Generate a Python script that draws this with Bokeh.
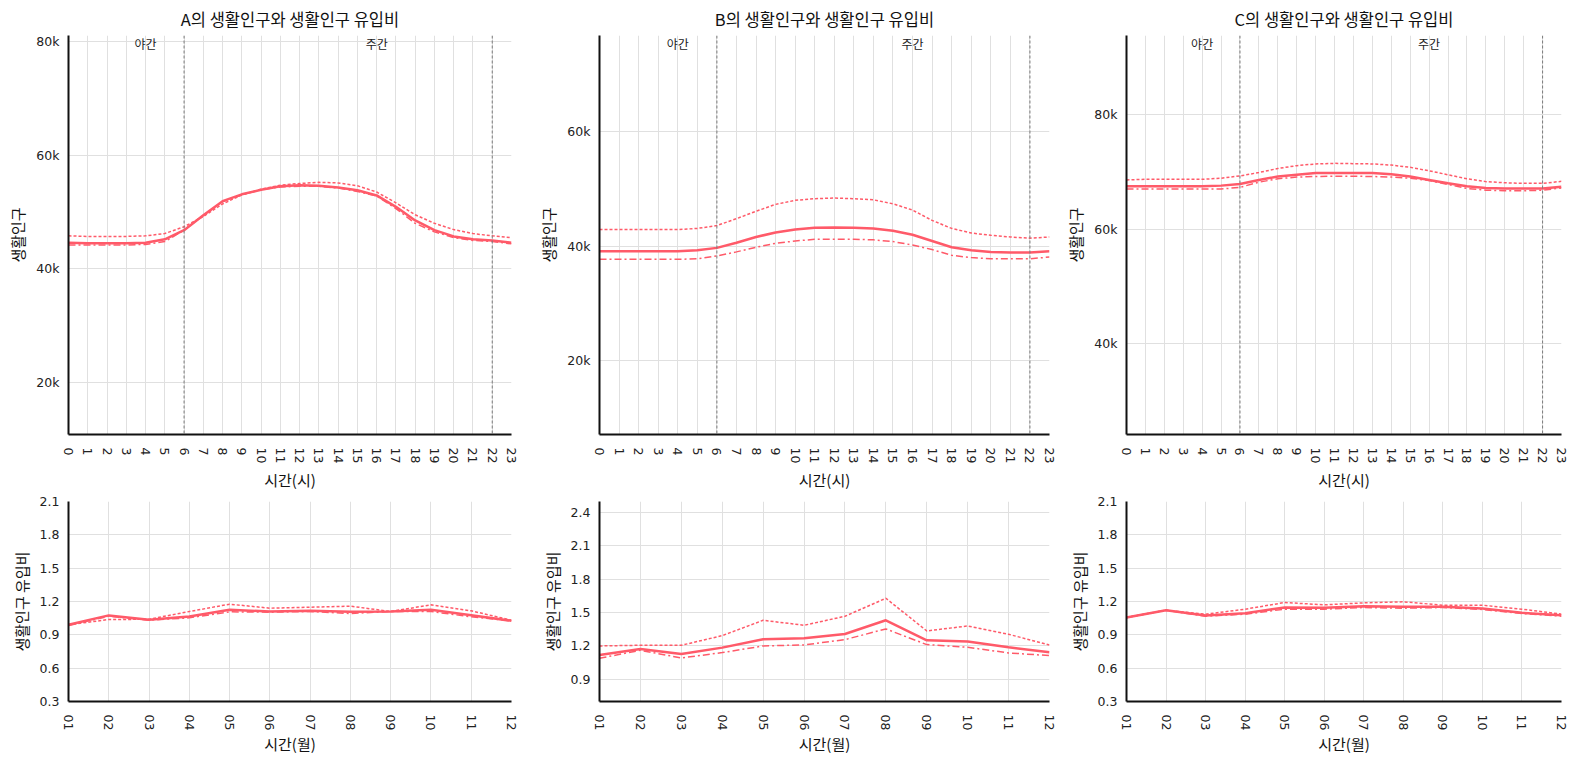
from bokeh.plotting import figure
from bokeh.models import Range1d, FixedTicker, NumeralTickFormatter, Span
from bokeh.layouts import column, row
from bokeh.core.properties import value
from bokeh.embed import file_html
from bokeh.resources import INLINE

# ---------------- data ----------------
hours = list(range(24))
hour_labels = [str(h) for h in hours]
months = list(range(1, 13))
month_labels = ["01", "02", "03", "04", "05", "06", "07", "08", "09", "10", "11", "12"]
period_labels = ["야간", "주간"]
period_x = [4, 16]
boundaries = [6, 22]

titles = ["A의 생활인구와 생활인구 유입비", "B의 생활인구와 생활인구 유입비", "C의 생활인구와 생활인구 유입비"]

a_pop_1 = [44.6, 44.5, 44.5, 44.5, 44.6, 45.2, 46.8, 49.4, 51.9, 53.1, 53.9, 54.5,
           54.7, 54.6, 54.3, 53.8, 52.9, 50.9, 48.5, 46.8, 45.7, 45.2, 45.0, 44.6]
a_pop_2 = [45.8, 45.7, 45.7, 45.7, 45.8, 46.2, 47.4, 49.2, 51.4, 53.0, 54.0, 54.7,
           55.0, 55.2, 55.1, 54.6, 53.5, 51.6, 49.5, 48.0, 46.9, 46.2, 45.8, 45.5]
a_pop_3 = [44.2, 44.2, 44.2, 44.2, 44.3, 44.8, 46.8, 49.4, 51.8, 53.0, 53.9, 54.4,
           54.5, 54.5, 54.2, 53.6, 52.8, 50.6, 48.0, 46.5, 45.5, 45.0, 44.8, 44.4]

b_pop_1 = [39.1, 39.1, 39.1, 39.1, 39.1, 39.3, 39.7, 40.6, 41.6, 42.4, 42.9, 43.2,
           43.25, 43.2, 43.1, 42.7, 42.0, 40.9, 39.8, 39.3, 39.0, 38.9, 38.9, 39.1]
b_pop_2 = [42.9, 42.9, 42.9, 42.9, 42.9, 43.1, 43.6, 44.8, 46.1, 47.3, 48.0, 48.3,
           48.4, 48.3, 48.1, 47.4, 46.3, 44.5, 43.1, 42.3, 41.9, 41.6, 41.4, 41.6]
b_pop_3 = [37.7, 37.7, 37.7, 37.7, 37.7, 37.8, 38.3, 39.0, 39.8, 40.5, 40.9, 41.2,
           41.2, 41.2, 41.1, 40.8, 40.2, 39.4, 38.4, 38.0, 37.8, 37.8, 37.8, 38.1]

c_pop_1 = [67.5, 67.5, 67.5, 67.5, 67.5, 67.6, 67.9, 68.6, 69.2, 69.5, 69.8, 69.8,
           69.8, 69.8, 69.6, 69.2, 68.6, 68.0, 67.5, 67.2, 67.1, 67.1, 67.1, 67.4]
c_pop_2 = [68.6, 68.7, 68.7, 68.7, 68.7, 68.9, 69.3, 69.9, 70.6, 71.1, 71.4, 71.5,
           71.45, 71.4, 71.2, 70.8, 70.2, 69.5, 68.8, 68.3, 68.1, 68.0, 68.0, 68.35]
c_pop_3 = [67.0, 67.0, 67.0, 67.0, 67.0, 67.0, 67.3, 68.2, 68.8, 69.1, 69.2, 69.25,
           69.25, 69.2, 69.1, 68.9, 68.5, 67.8, 67.1, 66.8, 66.7, 66.7, 66.8, 67.2]

a_ratio_1 = [0.99, 1.075, 1.035, 1.065, 1.125, 1.11, 1.116, 1.107, 1.11, 1.125, 1.077, 1.026]
a_ratio_2 = [0.99, 1.038, 1.04, 1.11, 1.176, 1.14, 1.149, 1.158, 1.11, 1.17, 1.116, 1.032]
a_ratio_3 = [0.984, 1.068, 1.032, 1.053, 1.107, 1.104, 1.11, 1.092, 1.11, 1.11, 1.062, 1.026]

b_ratio_1 = [1.119, 1.173, 1.128, 1.185, 1.26, 1.269, 1.308, 1.431, 1.251, 1.239, 1.188, 1.143]
b_ratio_2 = [1.2, 1.206, 1.206, 1.293, 1.431, 1.386, 1.467, 1.629, 1.335, 1.38, 1.305, 1.209]
b_ratio_3 = [1.089, 1.161, 1.092, 1.14, 1.2, 1.209, 1.257, 1.353, 1.212, 1.188, 1.137, 1.113]

c_ratio_1 = [1.056, 1.122, 1.074, 1.095, 1.146, 1.143, 1.158, 1.152, 1.152, 1.137, 1.098, 1.077]
c_ratio_2 = [1.056, 1.122, 1.086, 1.131, 1.191, 1.17, 1.188, 1.197, 1.167, 1.167, 1.131, 1.086]
c_ratio_3 = [1.056, 1.122, 1.068, 1.086, 1.131, 1.131, 1.146, 1.14, 1.146, 1.128, 1.092, 1.068]

pop_ticks = [0, 20000, 40000, 60000, 80000, 100000]
ratio_ticks = [0.3, 0.6, 0.9, 1.2, 1.5, 1.8, 2.1, 2.4]

pop_ranges = [(10900, 81000), (7100, 76800), (24000, 93900)]
ratio_ranges = [(0.3, 2.1), (0.7, 2.5), (0.3, 2.1)]

# ---------------- style ----------------
LINE = "#ff5a69"
GRID = "#e0e0e0"
CJK = "Noto Sans CJK KR"
NUM = "DejaVu Sans"
frame_widths = [443, 450, 435]
borders_l = [68, 65, 65]
borders_r = [23, 12, 25]
TOP_B, TOP_FRAME, TOP_BOT = 35, 399, 59
BOT_T, BOT_FRAME, BOT_BOT = 8, 200, 59


def style(p, xlabel, ylabel):
    p.outline_line_color = None
    p.background_fill_color = "white"
    p.border_fill_color = "white"
    for ax in p.xaxis + p.yaxis:
        ax.axis_line_color = "#111111"
        ax.axis_line_width = 2
        ax.major_tick_line_color = None
        ax.minor_tick_line_color = None
        ax.major_tick_out = 0
        ax.major_tick_in = 0
        ax.minor_tick_out = 0
        ax.minor_tick_in = 0
        ax.major_label_text_font = NUM
        ax.major_label_text_font_size = "12.5px"
        ax.major_label_text_color = "#222222"
        ax.axis_label_text_font = CJK
        ax.axis_label_text_font_size = "15px"
        ax.axis_label_text_font_style = "normal"
        ax.axis_label_text_color = "#111111"
    p.xaxis.axis_label = xlabel
    p.yaxis.axis_label = ylabel
    p.xaxis.major_label_orientation = "vertical"
    p.xaxis.major_label_standoff = 13
    p.xaxis.axis_label_standoff = 3
    p.yaxis.major_label_standoff = 9
    p.yaxis.axis_label_standoff = 5
    p.xgrid.grid_line_color = GRID
    p.ygrid.grid_line_color = GRID
    p.xgrid.grid_line_width = 1
    p.ygrid.grid_line_width = 1


def draw_lines(p, x, s1, s2, s3):
    p.line(x, s2, line_color=LINE, line_width=1.5, line_dash="3 2")
    p.line(x, s3, line_color=LINE, line_width=1.5, line_dash="7 3 2 3")
    p.line(x, s1, line_color=LINE, line_width=2.5)


pops = [(a_pop_1, a_pop_2, a_pop_3), (b_pop_1, b_pop_2, b_pop_3), (c_pop_1, c_pop_2, c_pop_3)]
ratios = [(a_ratio_1, a_ratio_2, a_ratio_3), (b_ratio_1, b_ratio_2, b_ratio_3), (c_ratio_1, c_ratio_2, c_ratio_3)]

tops = []
bottoms = []
for i in range(3):
    w = borders_l[i] + frame_widths[i] + borders_r[i]
    yr = pop_ranges[i]
    p = figure(width=w, height=TOP_B + TOP_FRAME + TOP_BOT,
               x_range=Range1d(0, 23), y_range=Range1d(*yr),
               min_border_left=borders_l[i], min_border_right=borders_r[i],
               min_border_top=TOP_B, min_border_bottom=TOP_BOT,
               output_backend="svg", toolbar_location=None, title=titles[i])
    p.title.text_font = CJK
    p.title.text_font_size = "16.5px"
    p.title.text_font_style = "normal"
    p.title.align = "center"
    p.title.text_color = "#111111"
    p.title.standoff = 9
    style(p, "시간(시)", "생활인구")
    p.xaxis.ticker = FixedTicker(ticks=hours)
    p.xaxis.major_label_overrides = {h: lab for h, lab in zip(hours, hour_labels)}
    p.yaxis.ticker = FixedTicker(ticks=pop_ticks)
    p.yaxis.formatter = NumeralTickFormatter(format="0a")
    for b in boundaries:
        p.add_layout(Span(location=b, dimension="height", line_color="#7a7a7a",
                          line_width=1, line_dash="3 2"))
    p.text(x=period_x, y=[yr[1]] * len(period_x), text=period_labels,
           y_offset=8, text_align="center", text_baseline="middle",
           text_font=value(CJK), text_font_size="12px", text_color="#222222")
    s1, s2, s3 = pops[i]
    draw_lines(p, hours, [v * 1000 for v in s1], [v * 1000 for v in s2], [v * 1000 for v in s3])
    tops.append(p)

    rr = ratio_ranges[i]
    q = figure(width=w, height=BOT_T + BOT_FRAME + BOT_BOT,
               x_range=Range1d(1, 12), y_range=Range1d(*rr),
               min_border_left=borders_l[i], min_border_right=borders_r[i],
               min_border_top=BOT_T, min_border_bottom=BOT_BOT,
               output_backend="svg", toolbar_location=None)
    style(q, "시간(월)", "생활인구 유입비")
    q.xaxis.axis_label_standoff = 0
    q.xaxis.ticker = FixedTicker(ticks=months)
    q.xaxis.major_label_overrides = {m: lab for m, lab in zip(months, month_labels)}
    q.yaxis.ticker = FixedTicker(ticks=ratio_ticks)
    q.yaxis.formatter = NumeralTickFormatter(format="0.0")
    r1, r2, r3 = ratios[i]
    draw_lines(q, months, r1, r2, r3)
    bottoms.append(q)

layout = column(row(*tops), row(*bottoms))
open("out.html", "w").write(file_html(layout, INLINE))
